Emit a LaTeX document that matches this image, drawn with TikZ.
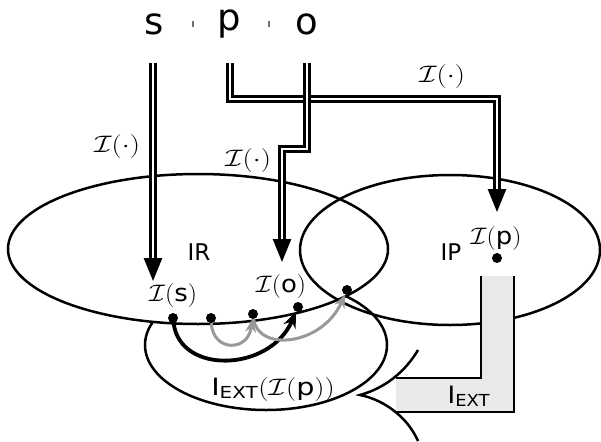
\RequirePackage{fix-cm}
\documentclass[tikz,border=0pt]{standalone}
\usepackage{amsmath}
\usepackage[no-math]{fontspec}
\setmainfont{DejaVu Sans}
\usetikzlibrary{arrows.meta}
\definecolor{boxgray}{RGB}{233,233,233}
\newcommand{\mlab}[1]{\scalebox{1.2}{$#1$}}
\newcommand{\wlab}[1]{\scalebox{1.38}[1.15]{$#1$}}
\newcommand{\blab}[1]{\scalebox{1.25}[1.15]{$#1$}}
\begin{document}
\begin{tikzpicture}[x=1pt,y=-1pt,
  lbl/.style={inner sep=0pt, font=\fontsize{23}{27}\selectfont},
  mlbl/.style={inner sep=0pt, font=\fontsize{20.74}{25}\selectfont},
  big/.style={inner sep=0pt, font=\fontsize{37}{40}\selectfont, anchor=base},
  ell/.style={line width=2.5pt},
  dbl/.style={draw=black, double=white, double distance=2pt, line width=2.7pt, -{Triangle[length=23pt,width=18pt]}},
  dot/.style={circle, fill=black, inner sep=0pt, minimum size=10pt},
  grayarr/.style={draw=black!40, line width=3pt, -{Stealth[length=13pt,width=11pt]}},
  blackarr/.style={draw=black, line width=3.8pt, -{Stealth[length=16pt,width=13pt]}},
  tickmark/.style={fill=black!55},
  edgeline/.style={line width=2.5pt},
]
\useasboundingbox (0,0) rectangle (601,441);

% third ellipse (partly hidden behind IR)
\draw[ell] (266,345) ellipse [x radius=121, y radius=65];
\node[mlbl, anchor=base] (iext) at (273,395) {\wlab{\text{I}_{\text{EXT}}(\mathcal{I}(\text{p}))}};

% IR and IP
\draw[ell, fill=white] (198,249) ellipse [x radius=190, y radius=75];
\draw[ell] (450,250) ellipse [x radius=150, y radius=75];

% callout pointer
\draw[edgeline] (418,350) .. controls (405,372) and (385,388) .. (360,395)
  .. controls (385,400) and (408,418) .. (418,441);

% L-shaped grey box
\fill[boxgray] (396,378) -- (481,378) -- (481,276) -- (514,276) -- (514,412) -- (396,412) -- cycle;
\draw[edgeline] (396,378) -- (481,378) -- (481,276);
\draw[edgeline] (514,276) -- (514,412) -- (396,412);
\node[mlbl, anchor=base] (iextlbl) at (469,403) {\blab{\text{I}_{\text{EXT}}}};

% region labels
\node[lbl, anchor=base] (ir) at (199,260) {IR};
\node[lbl, anchor=base] (ip) at (451,260) {IP};

% top letters
\node[big] (s) at (154,35) {s};
\node[big] (p) at (229,31) {p};
\node[big] (o) at (307,35) {o};
\fill[tickmark] (191.5,21) rectangle (193.5,27);
\fill[tickmark] (268,21) rectangle (270,27);

% coordinates for double arrows
\coordinate (s0) at (153,63); \coordinate (s1) at (153,281);
\coordinate (p0) at (230,63); \coordinate (pa) at (230,99);
\coordinate (pb) at (497,99); \coordinate (p1) at (497,212);
\coordinate (o0) at (307,63); \coordinate (oa) at (307,149);
\coordinate (ob) at (282,149); \coordinate (o1) at (282,262);

\draw[dbl] (s0) -- (s1);
\draw[dbl] (p0) -- (pa) -- (pb) -- (p1);
\draw[dbl] (o0) -- (oa) -- (ob) -- (o1);

\node[mlbl] (ls) at (117,147) {\wlab{\mathcal{I}(\cdot)}};
\node[mlbl] (lo) at (248,161) {\wlab{\mathcal{I}(\cdot)}};
\node[mlbl] (lp) at (442,77) {\wlab{\mathcal{I}(\cdot)}};

% image labels
\node[mlbl] (Is) at (173,296) {\blab{\mathcal{I}(\text{s})}};
\node[mlbl] (Io) at (281,287) {\blab{\mathcal{I}(\text{o})}};
\node[mlbl] (Ip) at (496,239) {\blab{\mathcal{I}(\text{p})}};

% dots
\node[dot] (d1) at (173,318) {};
\node[dot] (d2) at (211,318) {};
\node[dot] (d3) at (253,314) {};
\node[dot] (d4) at (298,307) {};
\node[dot] (d5) at (347,290) {};
\node[dot] (dp) at (497,258) {};

% curved arrows
\draw[blackarr] (d1) .. controls (180,375) and (270,372) .. (d4);
\draw[grayarr] (d2) .. controls (213,352) and (248,352) .. (d3);
\draw[grayarr] (d3) .. controls (258,352) and (322,346) .. (d5);
\end{tikzpicture}
\end{document}
